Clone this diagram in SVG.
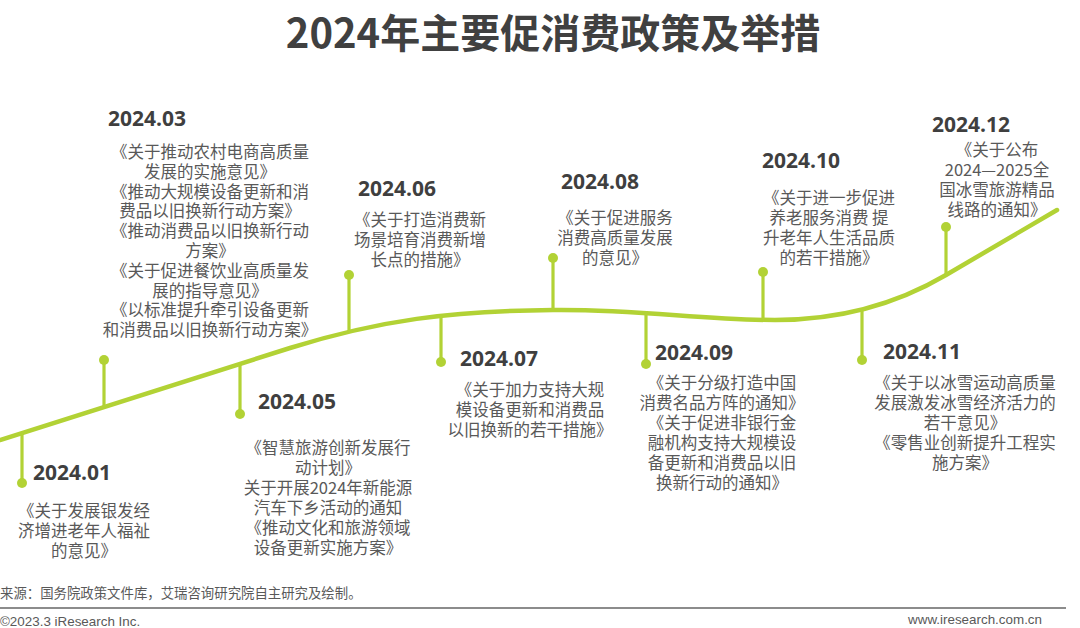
<svg xmlns="http://www.w3.org/2000/svg" width="1080" height="628" viewBox="0 0 1080 628">
<style>
.title{font-family:"Noto Sans CJK SC","Noto Sans",sans-serif;font-weight:700;font-size:40px;fill:#404040;text-anchor:middle}
.date{font-family:"Open Sans","Liberation Sans",sans-serif;font-weight:700;font-size:21px;fill:#3f3f3f}
.body{font-family:"Noto Sans CJK SC","Noto Sans",sans-serif;font-size:16.5px;fill:#595959;text-anchor:middle}
.curve{fill:none;stroke:#b2d235;stroke-width:4.5;stroke-linecap:round}
.stem{stroke:#b2d235;stroke-width:3.2}
.dot{fill:#b2d235}
.foot{font-family:"Liberation Sans","Noto Sans CJK SC",sans-serif;font-size:13.4px;fill:#595959}
</style>
<rect width="1080" height="628" fill="#ffffff"/>
<text class="title" x="553" y="48">2024年主要促消费政策及举措</text>

<g id="connectors">
<path class="curve" d="M0,440 L290,348 C380,320 450,311 553,310 C640,309 700,320 775,320 C840,320 895,305 946,275 C990,249 1025,229 1057,210"/>
<line class="stem" x1="22" y1="433" x2="22" y2="483"/>
<line class="stem" x1="104" y1="407" x2="104" y2="360"/>
<line class="stem" x1="240" y1="364" x2="240" y2="414"/>
<line class="stem" x1="349" y1="331" x2="349" y2="275"/>
<line class="stem" x1="441" y1="317" x2="441" y2="362"/>
<line class="stem" x1="553" y1="310" x2="553" y2="258"/>
<line class="stem" x1="646" y1="313" x2="646" y2="364"/>
<line class="stem" x1="763" y1="320" x2="763" y2="272"/>
<line class="stem" x1="862" y1="310" x2="862" y2="360"/>
<line class="stem" x1="946" y1="275" x2="946" y2="227"/>
</g>

<g id="n202401">
<circle class="dot" cx="22" cy="483" r="5"/>
<text class="date" x="33" y="480">2024.01</text>
<text class="body" y="517"><tspan x="84">《关于发展银发经</tspan><tspan x="84" dy="20">济增进老年人福祉</tspan><tspan x="84" dy="20">的意见》</tspan></text>
</g>

<g id="n202403">
<circle class="dot" cx="104" cy="360" r="5"/>
<text class="date" x="108" y="126">2024.03</text>
<text class="body" y="158"><tspan x="210">《关于推动农村电商高质量</tspan><tspan x="210" dy="19.8">发展的实施意见》</tspan><tspan x="210" dy="19.8">《推动大规模设备更新和消</tspan><tspan x="210" dy="19.8">费品以旧换新行动方案》</tspan><tspan x="210" dy="19.8">《推动消费品以旧换新行动</tspan><tspan x="210" dy="19.8">方案》</tspan><tspan x="210" dy="19.8">《关于促进餐饮业高质量发</tspan><tspan x="210" dy="19.8">展的指导意见》</tspan><tspan x="210" dy="19.8">《以标准提升牵引设备更新</tspan><tspan x="210" dy="19.8">和消费品以旧换新行动方案》</tspan></text>
</g>

<g id="n202405">
<circle class="dot" cx="240" cy="414" r="5"/>
<text class="date" x="258" y="409">2024.05</text>
<text class="body" y="454"><tspan x="328">《智慧旅游创新发展行</tspan><tspan x="328" dy="20">动计划》</tspan><tspan x="328" dy="20">关于开展2024年新能源</tspan><tspan x="328" dy="20">汽车下乡活动的通知</tspan><tspan x="328" dy="20">《推动文化和旅游领域</tspan><tspan x="328" dy="20">设备更新实施方案》</tspan></text>
</g>

<g id="n202406">
<circle class="dot" cx="349" cy="275" r="5"/>
<text class="date" x="358" y="196">2024.06</text>
<text class="body" y="226"><tspan x="420">《关于打造消费新</tspan><tspan x="420" dy="20">场景培育消费新增</tspan><tspan x="420" dy="20">长点的措施》</tspan></text>
</g>

<g id="n202407">
<circle class="dot" cx="441" cy="362" r="5"/>
<text class="date" x="460" y="366">2024.07</text>
<text class="body" y="396"><tspan x="530">《关于加力支持大规</tspan><tspan x="530" dy="20">模设备更新和消费品</tspan><tspan x="530" dy="20">以旧换新的若干措施》</tspan></text>
</g>

<g id="n202408">
<circle class="dot" cx="553" cy="258" r="5"/>
<text class="date" x="561" y="189">2024.08</text>
<text class="body" y="224"><tspan x="615">《关于促进服务</tspan><tspan x="615" dy="20">消费高质量发展</tspan><tspan x="615" dy="20">的意见》</tspan></text>
</g>

<g id="n202409">
<circle class="dot" cx="646" cy="364" r="5"/>
<text class="date" x="655" y="360">2024.09</text>
<text class="body" y="389"><tspan x="722">《关于分级打造中国</tspan><tspan x="722" dy="20">消费名品方阵的通知》</tspan><tspan x="722" dy="20">《关于促进非银行金</tspan><tspan x="722" dy="20">融机构支持大规模设</tspan><tspan x="722" dy="20">备更新和消费品以旧</tspan><tspan x="722" dy="20">换新行动的通知》</tspan></text>
</g>

<g id="n202410">
<circle class="dot" cx="763" cy="272" r="5"/>
<text class="date" x="762" y="168">2024.10</text>
<text class="body" y="204"><tspan x="829">《关于进一步促进</tspan><tspan x="829" dy="20">养老服务消费 提</tspan><tspan x="829" dy="20">升老年人生活品质</tspan><tspan x="829" dy="20">的若干措施》</tspan></text>
</g>

<g id="n202411">
<circle class="dot" cx="862" cy="360" r="5"/>
<text class="date" x="883" y="359">2024.11</text>
<text class="body" y="389"><tspan x="965">《关于以冰雪运动高质量</tspan><tspan x="965" dy="20">发展激发冰雪经济活力的</tspan><tspan x="965" dy="20">若干意见》</tspan><tspan x="965" dy="20">《零售业创新提升工程实</tspan><tspan x="965" dy="20">施方案》</tspan></text>
</g>

<g id="n202412">
<circle class="dot" cx="946" cy="227" r="5"/>
<text class="date" x="932" y="132">2024.12</text>
<text class="body" y="156"><tspan x="997">《关于公布</tspan><tspan x="997" dy="20">2024—2025全</tspan><tspan x="997" dy="20">国冰雪旅游精品</tspan><tspan x="997" dy="20">线路的通知》</tspan></text>
</g>

<g id="footer">
<text class="foot" x="0" y="598">来源：国务院政策文件库，艾瑞咨询研究院自主研究及绘制。</text>
<line x1="0" y1="608" x2="1066" y2="608" stroke="#8c8c8c" stroke-width="2"/>
<text class="foot" x="0" y="626" font-size="12.5">©2023.3 iResearch Inc.</text>
<text class="foot" x="1042" y="624" text-anchor="end" font-size="12.5">www.iresearch.com.cn</text>
</g>
</svg>
